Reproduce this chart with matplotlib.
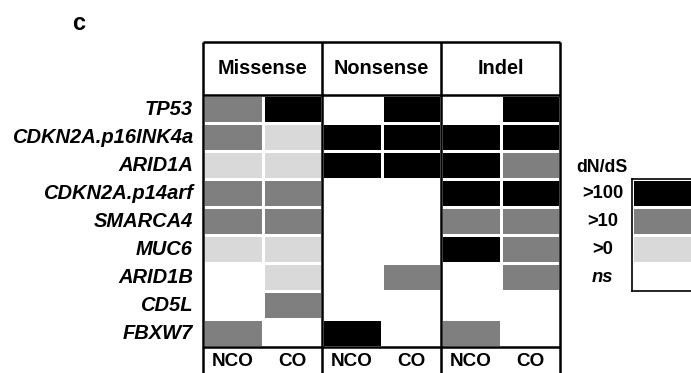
import numpy as np
import matplotlib.pyplot as plt
from matplotlib.colors import ListedColormap

# genes (rows) y columnas (tipo de mutación x grupo)
genes = ["TP53", "CDKN2A.p16INK4a", "ARID1A", "CDKN2A.p14arf", "SMARCA4",
         "MUC6", "ARID1B", "CD5L", "FBXW7"]
tipos = ["Missense", "Nonsense", "Indel"]
grupos = ["NCO", "CO"]

# niveles dN/dS: 0 = ns, 1 = >0, 2 = >10, 3 = >100
missense_nco = [2, 2, 1, 2, 2, 1, 0, 0, 2]
missense_co = [3, 1, 1, 2, 2, 1, 1, 2, 0]
nonsense_nco = [0, 3, 3, 0, 0, 0, 0, 0, 3]
nonsense_co = [3, 3, 3, 0, 0, 0, 2, 0, 0]
indel_nco = [0, 3, 3, 3, 2, 3, 0, 0, 2]
indel_co = [3, 3, 2, 3, 2, 2, 2, 0, 0]

niveles = [3, 2, 1, 0]
etiquetas_niveles = [">100", ">10", ">0", "ns"]
colores = ["white", "#d9d9d9", "#7f7f7f", "black"]

matriz = np.array([missense_nco, missense_co, nonsense_nco,
                   nonsense_co, indel_nco, indel_co]).T
cmap = ListedColormap(colores)

W, H = 691, 373
fig = plt.figure(figsize=(W / 100, H / 100), dpi=100)
plt.rcParams["font.family"] = ["Liberation Sans", "DejaVu Sans"]

# eje del mapa de calor, en pixeles de la figura
x0, x1 = 203, 560
top, fila = 42, 28
ytop, ybot = -1.9, 10
alto = (ybot - ytop) * fila
ax = fig.add_axes([x0 / W, 1 - (top + alto) / H, (x1 - x0) / W, alto / H])
ax.pcolormesh(np.arange(7), np.arange(10), matriz, cmap=cmap, vmin=-0.5,
              vmax=3.5, edgecolors="white", linewidth=1)
ax.set_xlim(0, 6)
ax.set_ylim(ybot, ytop)
ax.axis("off")

# lineas negras de la tabla
ax.vlines([0, 2, 4, 6], ytop, ybot, color="black", lw=1.8, clip_on=False)
ax.hlines([ytop, 0, 9], 0, 6, color="black", lw=1.8, clip_on=False)

for i, t in enumerate(tipos):
    ax.text(2 * i + 1, ytop / 2, t, ha="center", va="center",
            fontsize=14.3, fontweight="bold")
    for j, g in enumerate(grupos):
        ax.text(2 * i + j + 0.5, 9.5, g, ha="center", va="center",
                fontsize=13.6, fontweight="bold")

for k, gen in enumerate(genes):
    ax.text(-0.17, k + 0.5, gen, ha="right", va="center", fontsize=14.5,
            fontweight="bold", style="italic")

fig.text(79 / W, 1 - 24 / H, "c", ha="center", va="center", fontsize=17,
         fontweight="bold")

# leyenda
lx0, ltop = 632, 179
ax2 = fig.add_axes([lx0 / W, 1 - (ltop + 4 * fila) / H, 80 / W, 4 * fila / H])
ax2.pcolormesh(np.arange(2), np.arange(5), np.array(niveles)[:, None],
               cmap=cmap, vmin=-0.5, vmax=3.5, edgecolors="white", linewidth=1)
ax2.set_xlim(0, 1)
ax2.set_ylim(4, 0)
ax2.set_xticks([])
ax2.set_yticks([])
for s in ax2.spines.values():
    s.set_linewidth(1.2)
ax2.text(-0.37, -0.4, "dN/dS", ha="center", va="center", fontsize=12.8,
         fontweight="bold", transform=ax2.transData)
for k, et in enumerate(etiquetas_niveles):
    ax2.text(-0.37, k + 0.5, et, ha="center", va="center", fontsize=13.2,
             fontweight="bold", style="italic" if et == "ns" else "normal")

fig.savefig("out.png", dpi=100)
